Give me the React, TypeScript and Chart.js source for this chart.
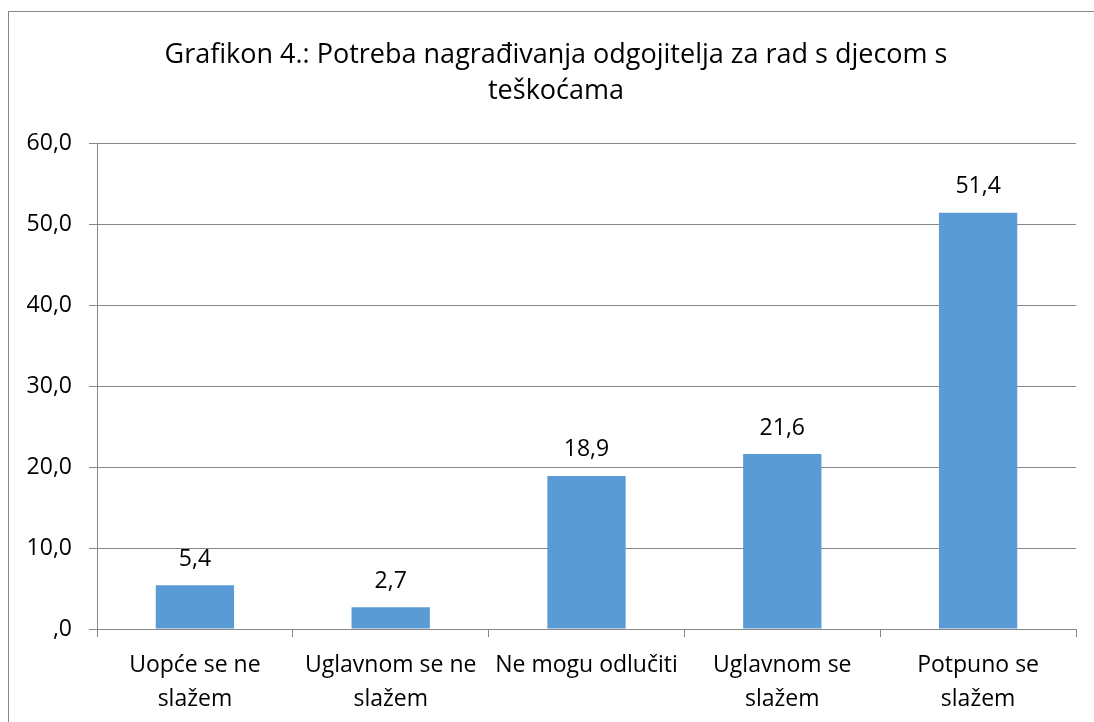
import React, { useEffect, useRef } from "react";
import { Chart, registerables } from "chart.js";

Chart.register(...registerables);

const titleLines = ["Grafikon 4.: Potreba nagrađivanja odgojitelja za rad s djecom s", "teškoćama"];
const categories = [
  ["Uopće se ne", "slažem"],
  ["Uglavnom se ne", "slažem"],
  "Ne mogu odlučiti",
  ["Uglavnom se", "slažem"],
  ["Potpuno se", "slažem"],
];
const values = [5.4, 2.7, 18.9, 21.6, 51.4];
const valueLabels = ["5,4", "2,7", "18,9", "21,6", "51,4"];
const yTickLabels = [",0", "10,0", "20,0", "30,0", "40,0", "50,0", "60,0"];

const FONT = "'Open Sans', sans-serif";
const GRID = "#868686";

const decorPlugin = {
  id: "decor",
  beforeDraw(chart: any) {
    const ctx = chart.ctx;
    ctx.save();
    ctx.fillStyle = "#ffffff";
    ctx.fillRect(0, 0, chart.width, chart.height);
    ctx.strokeStyle = GRID;
    ctx.lineWidth = 1;
    ctx.strokeRect(8.5, 11.5, 3000, 3000);
    ctx.fillStyle = "#000000";
    ctx.font = `27px ${FONT}`;
    ctx.textAlign = "center";
    ctx.textBaseline = "alphabetic";
    ctx.fillText(titleLines[0], 556, 63);
    ctx.fillText(titleLines[1], 556, 99);
    ctx.restore();
  },
  afterDatasetsDraw(chart: any) {
    const ctx = chart.ctx;
    const meta = chart.getDatasetMeta(0);
    ctx.save();
    ctx.fillStyle = "#000000";
    ctx.font = `23px ${FONT}`;
    ctx.textAlign = "center";
    ctx.textBaseline = "alphabetic";
    meta.data.forEach((bar: any, i: number) => {
      ctx.fillText(valueLabels[i], bar.x, bar.y - 19.5);
    });
    ctx.restore();
  },
};

export default function App() {
  const ref = useRef<HTMLCanvasElement>(null);
  useEffect(() => {
    if (!ref.current) return;
    const chart = new Chart(ref.current, {
      type: "bar",
      data: {
        labels: categories as any,
        datasets: [
          {
            data: values,
            backgroundColor: "#5B9BD5",
            borderWidth: 0,
            barPercentage: 0.4,
            categoryPercentage: 1,
          },
        ],
      },
      options: {
        responsive: false,
        animation: false,
        devicePixelRatio: 1,
        layout: { padding: { top: 143, right: 18, bottom: 0, left: 0 } },
        plugins: {
          legend: { display: false },
          title: { display: false },
          tooltip: { enabled: false },
        },
        scales: {
          x: {
            afterFit(scale: any) {
              scale.height = 93;
            },
            grid: {
              offset: true,
              drawOnChartArea: false,
              drawTicks: true,
              tickLength: 8,
              color: GRID,
            },
            border: { display: true, color: GRID },
            ticks: {
              color: "#000000",
              font: { family: FONT, size: 23, lineHeight: 1.48 },
              padding: 11,
              maxRotation: 0,
              autoSkip: false,
            },
          },
          y: {
            min: 0,
            max: 60,
            afterFit(scale: any) {
              scale.width = 97;
            },
            grid: {
              drawTicks: true,
              tickLength: 8,
              color: GRID,
            },
            border: { display: true, color: GRID },
            ticks: {
              stepSize: 10,
              color: "#000000",
              font: { family: FONT, size: 23 },
              padding: 17,
              callback: (v: any) => yTickLabels[Math.round(Number(v) / 10)],
            },
          },
        },
      },
      plugins: [decorPlugin],
    });
    return () => chart.destroy();
  }, []);
  return (
    <canvas
      ref={ref}
      width={1094}
      height={722}
      style={{ position: "fixed", left: 0, top: 0, width: 1094, height: 722, display: "block" }}
    />
  );
}
